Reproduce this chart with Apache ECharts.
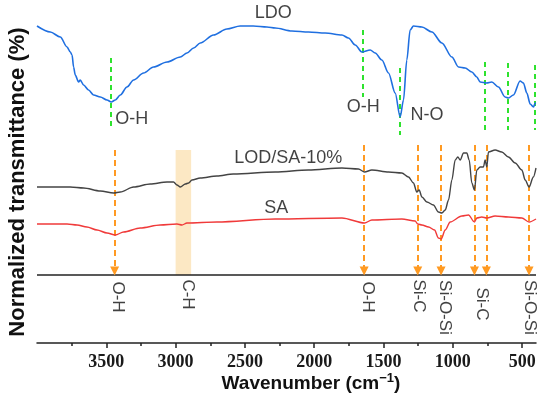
<!DOCTYPE html>
<html>
<head>
<meta charset="utf-8">
<script src="https://cdn.jsdelivr.net/npm/echarts@6.0.0/dist/echarts.min.js"></script>
<style>html,body{margin:0;padding:0;background:#fff;}#c{width:550px;height:398px;}</style>
</head>
<body>
<div id="c"></div>
<script>
// ---- data (wavenumber in cm^-1, transmittance in arbitrary normalized units) ----
const ldoWn = [4000,3904,3832,3783,3760,3747,3736,3724,3700,3688,3664,3628,3592,3543,3495,3464,3435,3399,3351,3303,3231,3159,3062,2966,2918,2870,2822,2726,2630,2534,2440,2341,2281,2161,2041,1921,1800,1753,1704,1656,1596,1560,1512,1464,1416,1380,1356,1332,1308,1284,1223,1151,1079,1007,959,911,863,827,803,755,719,671,623,599,563,515,491,466,442,418,406,400];
const ldoT  = [317,311,306,296,291,288,276,268,261,263,258,253,248,246,243,241,243,248,256,263,270,276,281,286,290,295,300,308,314,317,317,316,315,312,311,310,308,305,298,291,293,290,283,270,250,226,243,283,313,317,316,311,300,286,276,275,271,266,261,260,261,256,246,245,248,262,260,250,239,236,240,240];

const grayWn = [4000,3760,3664,3543,3447,3399,3303,3183,3062,3015,2990,2966,2930,2906,2882,2822,2702,2584,2281,2043,1800,1681,1637,1584,1464,1368,1320,1284,1260,1243,1223,1187,1140,1104,1079,1055,1031,1007,983,964,947,923,899,882,863,844,827,803,779,767,755,743,695,647,599,550,502,478,450,419,400];
const grayT  = [156,156,155,152,150,151,156,159,161,161,158,156,159,160,163,165,167,169,171,173,175,174,171,173,171,170,166,160,151,153,146,141,138,131,130,133,143,163,183,186,183,190,190,183,160,153,173,176,176,183,176,191,193,191,186,180,173,163,156,166,175];

const saWn = [4000,3783,3711,3640,3567,3495,3435,3375,3255,3111,2990,2954,2918,2702,2281,1800,1637,1584,1368,1272,1253,1223,1175,1132,1104,1084,1055,1019,935,887,844,827,791,755,695,599,502,450,400];
const saT  = [119,119,118,116,113,110,108,111,115,118,119,118,120,121,124,125,120,123,124,122,119,118,116,113,105,104,113,121,127,128,121,125,126,125,127,126,125,121,124];

const majorTicks = [3500,3000,2500,2000,1500,1000,500];
const minorTicks = [3750,3250,2750,2250,1750,1250,750];

// LDO band markers (green dashed)
const greenWn  = [3470,1647,1380,772,605,408];
const greenTop = [285,313,275,281,280,278];
const greenBot = [216,246,208,213,213,213];

// composite band markers (orange arrows)
const arrowWn  = [3440,1640,1253,1085,844,758,450];
const arrowTop = [193,198,198,198,198,198,198];
const arrowBot = 72;
const baseLineY = 68;

// C-H shaded region
const bandWn = [3000,2888];
const bandTop = 193;

// curve labels
const curveText = ['LDO','LOD/SA-10%','SA','O-H','O-H','N-O'];
const curveWn   = [2296,2188,2274,3316,1647,1187];
const curveY    = [330,185,135,224,236,228];

// bond labels (rotated)
const bondText = ['O-H','C-H','O-H','Si-C','Si-O-Si','Si-C','Si-O-Si'];
const bondWn   = [3421,2912,1611,1243,1057,792,442];
const bondY    = [46,48.5,46,47,35.5,39,35.5];

const zip = (a,b) => a.map((v,i)=>[v,b[i]]);
const SANS = '"Liberation Sans", Arial, sans-serif';

const chart = echarts.init(document.getElementById('c'), null, {renderer:'canvas'});
const option = {
  animation: false,
  backgroundColor: '#fff',
  grid: {left: 37, right: 14, top: 3, bottom: 55},
  xAxis: [{
    type: 'value', inverse: true, min: 400, max: 4000,
    splitLine: {show: false},
    axisLine: {show: true, lineStyle: {color: '#222', width: 1.5}},
    axisTick: {show: true, customValues: majorTicks, length: 5, lineStyle: {color: '#222', width: 1.5}},
    axisLabel: {show: true, customValues: majorTicks, margin: 10,
      formatter: v => '{t|' + v + '}',
      rich: {t: {fontFamily: 'Liberation Serif', fontWeight: 'bold', fontSize: 18, color: '#1a1a1a', lineHeight: 18}}}
  }, {
    type: 'value', inverse: true, min: 400, max: 4000, position: 'bottom',
    splitLine: {show: false},
    axisLine: {show: false},
    axisTick: {show: true, customValues: minorTicks, length: 3, lineStyle: {color: '#222', width: 1.5}},
    axisLabel: {show: false}
  }],
  yAxis: {type: 'value', min: 0, max: 340, show: false},
  series: [
    {
      name: 'LDO', type: 'line', data: zip(ldoWn, ldoT), showSymbol: false,
      smooth: 0.3, smoothMonotone: 'x',
      lineStyle: {color: '#1f6fe0', width: 1.6}, z: 5,
      markLine: {
        silent: true, symbol: 'none', label: {show: false},
        lineStyle: {color: '#2ee22e', type: [5,4], width: 2},
        data: greenWn.map((w,i)=>[{coord:[w, greenTop[i]]},{coord:[w, greenBot[i]]}])
      }
    },
    {
      name: 'LOD/SA-10%', type: 'line', data: zip(grayWn, grayT), showSymbol: false,
      smooth: 0.3, smoothMonotone: 'x',
      lineStyle: {color: '#444', width: 1.4}, z: 5,
      markArea: {
        silent: true, itemStyle: {color: '#fce8c4', opacity: 1},
        data: [[{coord:[bandWn[0], bandTop]}, {coord:[bandWn[1], baseLineY]}]]
      },
      markLine: {
        silent: true, symbol: 'none', label: {show: false},
        lineStyle: {color: '#222', type: 'solid', width: 1.5},
        data: [[{coord:[4000, baseLineY]}, {coord:[400, baseLineY]}]]
      }
    },
    {
      name: 'SA', type: 'line', data: zip(saWn, saT), showSymbol: false,
      smooth: 0.3, smoothMonotone: 'x',
      lineStyle: {color: '#f03a3a', width: 1.4}, z: 5,
      markLine: {
        silent: true, symbol: ['none','triangle'], symbolSize: 9, label: {show: false},
        lineStyle: {color: '#ff9a22', type: [6,4], width: 2},
        itemStyle: {color: '#ff9a22'},
        data: arrowWn.map((w,i)=>[{coord:[w, arrowTop[i]]},{coord:[w, arrowBot]}])
      }
    },
    {
      name: 'curveLabels', type: 'scatter', symbolSize: 0, silent: true, z: 10,
      data: curveWn.map((w,i)=>({value:[w, curveY[i]], label:{formatter: curveText[i]}})),
      label: {show: true, position: 'inside', fontFamily: SANS, fontSize: 18, color: '#111'}
    },
    {
      name: 'bondLabels', type: 'scatter', symbolSize: 0, silent: true, z: 10,
      data: bondWn.map((w,i)=>({value:[w, bondY[i]], label:{formatter: bondText[i]}})),
      label: {show: true, position: 'inside', rotate: -90, align: 'center', verticalAlign: 'middle',
        fontFamily: SANS, fontSize: 17, color: '#111'}
    }
  ],
  graphic: [
    {
      type: 'text', x: 18, y: 182, rotation: Math.PI/2, silent: true,
      style: {text: 'Normalized transmittance (%)', font: 'bold 22px ' + SANS, fill: '#111',
        align: 'center', verticalAlign: 'middle', textAlign: 'center', textVerticalAlign: 'middle'}
    },
    {
      type: 'text', x: 311, y: 384, silent: true,
      style: {
        text: '{a|Wavenumber (cm}{s|−1}{a|)}',
        align: 'center', verticalAlign: 'middle', textAlign: 'center', textVerticalAlign: 'middle',
        rich: {
          a: {fontSize: 19, fontWeight: 'bold', fontFamily: SANS, fill: '#111', lineHeight: 24},
          s: {fontSize: 13, fontWeight: 'bold', fontFamily: SANS, fill: '#111', lineHeight: 14, verticalAlign: 'top'}
        }
      }
    }
  ]
};
chart.setOption(option);
</script>
</body>
</html>
